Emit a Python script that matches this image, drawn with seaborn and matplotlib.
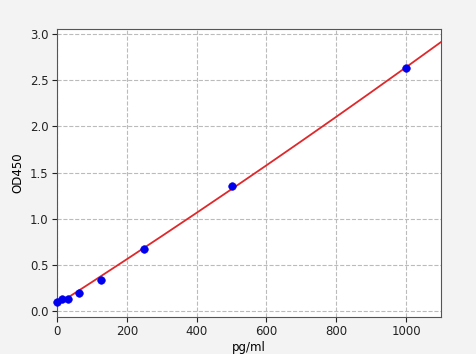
import numpy as np
import pandas as pd
import matplotlib
matplotlib.use("Agg")
import matplotlib.pyplot as plt
import seaborn as sns

conc = [0, 15.6, 31.25, 62.5, 125, 250, 500, 1000]
od = [0.10, 0.135, 0.135, 0.20, 0.335, 0.675, 1.35, 2.635]

df = pd.DataFrame({"pg/ml": conc, "OD450": od})

coef = np.polyfit(conc, od, 2)
xs = np.linspace(0, 1100, 200)
fit = pd.DataFrame({"pg/ml": xs, "OD450": np.polyval(coef, xs)})

fig = plt.figure(figsize=(4.77, 3.54), dpi=100, facecolor="#f3f3f3")
ax = fig.add_axes([0.1195, 0.1045, 0.805, 0.8135])
ax.set_facecolor("white")

sns.lineplot(data=fit, x="pg/ml", y="OD450", ax=ax, color="#e0282a", lw=1.3, zorder=2)
sns.scatterplot(data=df, x="pg/ml", y="OD450", ax=ax, color="#0000ee", s=30,
                edgecolor="#0000ee", zorder=3, clip_on=False)

ax.set_xlim(0, 1100)
ax.set_ylim(-0.065, 3.055)
ax.set_xticks([0, 200, 400, 600, 800, 1000])
ax.set_yticks([0.0, 0.5, 1.0, 1.5, 2.0, 2.5, 3.0])
ax.grid(True, linestyle="--", color="#bbbbbb", lw=0.8)
ax.set_axisbelow(True)
for s in ax.spines.values():
    s.set_color("#555555")
ax.tick_params(labelsize=8.5, colors="#222222", pad=2.5)
ax.set_xlabel("pg/ml", fontsize=8.5, labelpad=2)
ax.set_ylabel("OD450", fontsize=8.5, labelpad=4)

fig.savefig("out.png", dpi=100, facecolor=fig.get_facecolor())
